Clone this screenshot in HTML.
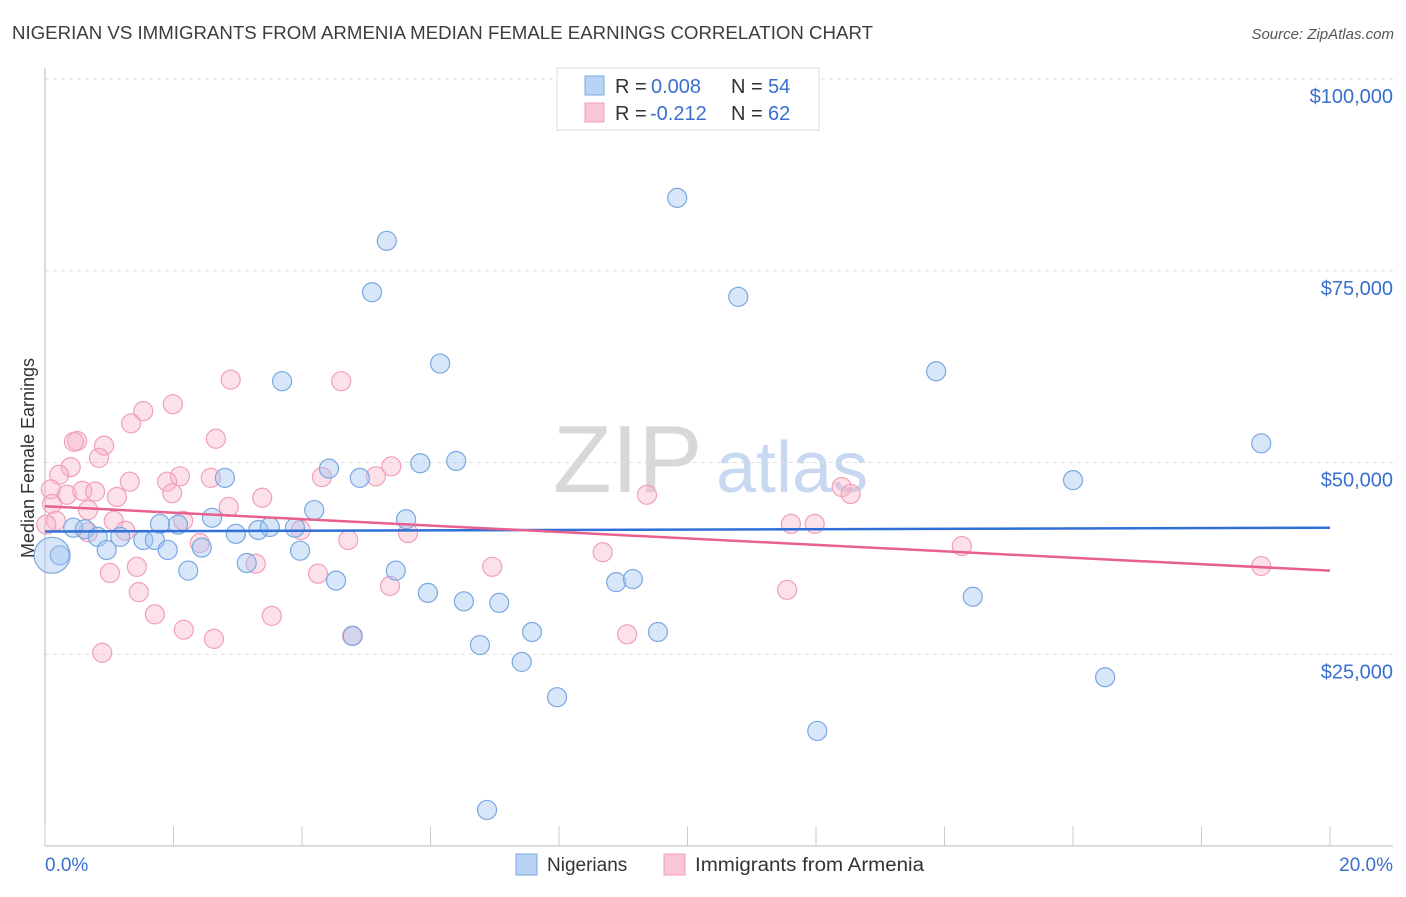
<!DOCTYPE html>
<html><head><meta charset="utf-8"><style>
body{margin:0;background:#fff;font-family:"Liberation Sans",sans-serif}
svg text{font-family:"Liberation Sans",sans-serif}
</style></head><body>
<svg id="chart" width="1406" height="892" xmlns="http://www.w3.org/2000/svg">
<text x="12" y="39" font-size="18" fill="#3c3c3c" textLength="861" lengthAdjust="spacingAndGlyphs">NIGERIAN VS IMMIGRANTS FROM ARMENIA MEDIAN FEMALE EARNINGS CORRELATION CHART</text>
<text x="1394" y="39" font-size="15" fill="#555" font-style="italic" text-anchor="end">Source: ZipAtlas.com</text>
<g>
<text x="553" y="492" font-size="96" font-family="Liberation Serif" fill="#d8d8d8">ZIP</text>
<text x="716" y="492" font-size="72" fill="#c7d8f0">atlas</text>
</g>
<g id="grid"></g>
<g id="axes"></g>
<g id="marks"></g>
<text transform="translate(34,458) rotate(-90)" font-size="18" fill="#333" text-anchor="middle">Median Female Earnings</text>
<g>
<rect x="557" y="68" width="262" height="62" fill="#fff" stroke="#ddd"/>
<rect x="585" y="76" width="19" height="19" fill="#b8d3f4" stroke="#7aa8e0"/>
<text x="615" y="93" font-size="20" fill="#333">R = </text>
<text x="651" y="93" font-size="20" fill="#3a6fd0">0.008</text>
<text x="731" y="93" font-size="20" fill="#333">N = </text>
<text x="768" y="93" font-size="20" fill="#3a6fd0">54</text>
<rect x="585" y="103" width="19" height="19" fill="#fac5d4" stroke="#f0a0b8"/>
<text x="615" y="120" font-size="20" fill="#333">R = </text>
<text x="650" y="120" font-size="20" fill="#3a6fd0">-0.212</text>
<text x="731" y="120" font-size="20" fill="#333">N = </text>
<text x="768" y="120" font-size="20" fill="#3a6fd0">62</text>
</g>
<g>
<rect x="516" y="854" width="21" height="21" fill="#b8d3f4" stroke="#7aa8e0"/>
<text x="547" y="871" font-size="19" fill="#333">Nigerians</text>
<rect x="664" y="854" width="21" height="21" fill="#fac5d4" stroke="#f0a0b8"/>
<text x="695" y="871" font-size="19" fill="#333" textLength="229" lengthAdjust="spacingAndGlyphs">Immigrants from Armenia</text>
</g>
</svg>
<script>
const blueX=[9.84,5.32,5.09,10.79,6.15,13.87,3.69,18.93,2.80,4.42,4.90,5.84,6.40,16.00,4.19,5.62,2.60,1.79,2.07,0.44,0.62,0.82,1.17,1.53,1.71,2.97,3.32,3.50,3.89,0.96,1.91,2.44,3.97,3.14,2.23,5.46,4.53,8.89,9.15,5.96,6.52,7.07,14.44,7.58,9.54,6.77,7.42,16.50,7.97,12.02,6.88,0.23,4.79,0.11];
const blueY=[84.5,78.9,72.2,71.6,62.9,61.9,60.6,52.5,48.0,49.2,48.0,49.9,50.2,47.7,43.8,42.6,42.8,42.0,41.9,41.5,41.3,40.3,40.3,39.9,39.9,40.7,41.2,41.6,41.5,38.6,38.6,38.9,38.5,36.9,35.9,35.9,34.6,34.4,34.8,33.0,31.9,31.7,32.5,27.9,27.9,26.2,24.0,22.0,19.4,15.0,4.7,37.9,27.4,37.9];
const blueSize=[1,1,1,1,1,1,1,1,1,1,1,1,1,1,1,1,1,1,1,1,1,1,1,1,1,1,1,1,1,1,1,1,1,1,1,1,1,1,1,1,1,1,1,1,1,1,1,1,1,1,1,1,1,2];
const pinkX=[2.89,4.61,1.99,1.53,1.34,0.50,0.45,2.66,0.92,0.84,0.40,0.22,2.10,1.90,5.39,5.15,4.31,2.58,1.32,0.09,0.34,0.58,0.78,1.98,1.12,3.38,9.37,12.40,12.54,0.11,0.67,2.86,0.17,1.07,1.25,2.15,3.98,4.72,5.65,2.41,0.67,11.61,11.98,8.68,14.27,3.28,1.43,1.01,4.25,6.96,18.93,5.37,1.46,11.55,1.71,3.53,2.16,9.06,2.63,4.78,0.89,0.02];
const pinkY=[60.8,60.6,57.6,56.7,55.1,52.8,52.7,53.1,52.2,50.6,49.4,48.4,48.2,47.5,49.5,48.2,48.1,48.0,47.5,46.5,45.8,46.3,46.2,46.0,45.5,45.4,45.8,46.8,45.9,44.6,43.8,44.2,42.4,42.4,41.1,42.4,41.2,39.9,40.8,39.5,40.9,42.0,42.0,38.3,39.1,36.8,36.4,35.6,35.5,36.4,36.5,33.9,33.1,33.4,30.2,30.0,28.2,27.6,27.0,27.4,25.2,41.9];
const trendX=[0,20];
const blueTrend=[41.0,41.5];
const pinkTrend=[44.3,35.9];
const yTicks=[25,50,75,100];
const yTickLabels=["$25,000","$50,000","$75,000","$100,000"];
const xTicks=[0,2,4,6,8,10,12,14,16,18,20];
const xTickLabels=["0.0%","20.0%"];

const NS="http://www.w3.org/2000/svg";
const sx=v=>45+v*64.25;
const sy=v=>846-v*7.67;
function mk(tag,attrs,parent){const e=document.createElementNS(NS,tag);for(const k in attrs)e.setAttribute(k,attrs[k]);parent.appendChild(e);return e;}
const grid=document.getElementById('grid'),axes=document.getElementById('axes'),marks=document.getElementById('marks');
yTicks.forEach((t,i)=>{
  const l=mk('line',{x1:45,x2:1393,y1:sy(t),y2:sy(t),stroke:'#ddd','stroke-dasharray':'4,4'},grid);
  
  
  const tx=mk('text',{x:1393,y:sy(t)+24,'font-size':20,fill:'#3a6fd0','text-anchor':'end'},axes);
  tx.textContent=yTickLabels[i];
  
  
});
const ya=mk('line',{x1:45,x2:45,y1:68,y2:846,stroke:'#bbb'},axes);


const xa=mk('line',{x1:45,x2:1393,y1:846,y2:846,stroke:'#bbb'},axes);


xTicks.forEach(t=>{
  const l=mk('line',{x1:sx(t),x2:sx(t),y1:826,y2:846,stroke:'#ccc'},axes);
  
  
});
[[0,'start'],[20,'end']].forEach(([v,a],i)=>{
  const tx=mk('text',{x:i?1393:45,y:871,'font-size':19,fill:'#3a6fd0','text-anchor':a},axes);
  tx.textContent=xTickLabels[i];
  
  
});
pinkX.forEach((x,i)=>{
  const c=mk('circle',{cx:sx(x),cy:sy(pinkY[i]),r:9.5,fill:'rgba(248,175,198,0.38)',stroke:'#f0a0ba','stroke-width':1.2},marks);
  
  
});
blueX.forEach((x,i)=>{
  const c=mk('circle',{cx:sx(x),cy:sy(blueY[i]),r:blueSize[i]>1?18:9.5,fill:'rgba(160,196,240,0.42)',stroke:'#7aa8e0','stroke-width':1.2},marks);
  
  
});
const bl=mk('line',{x1:sx(trendX[0]),x2:sx(trendX[1]),y1:sy(blueTrend[0]),y2:sy(blueTrend[1]),stroke:'#2f6fd6','stroke-width':2.5},marks);


const pl=mk('line',{x1:sx(trendX[0]),x2:sx(trendX[1]),y1:sy(pinkTrend[0]),y2:sy(pinkTrend[1]),stroke:'#e8608e','stroke-width':2.5},marks);


</script>
</body></html>
